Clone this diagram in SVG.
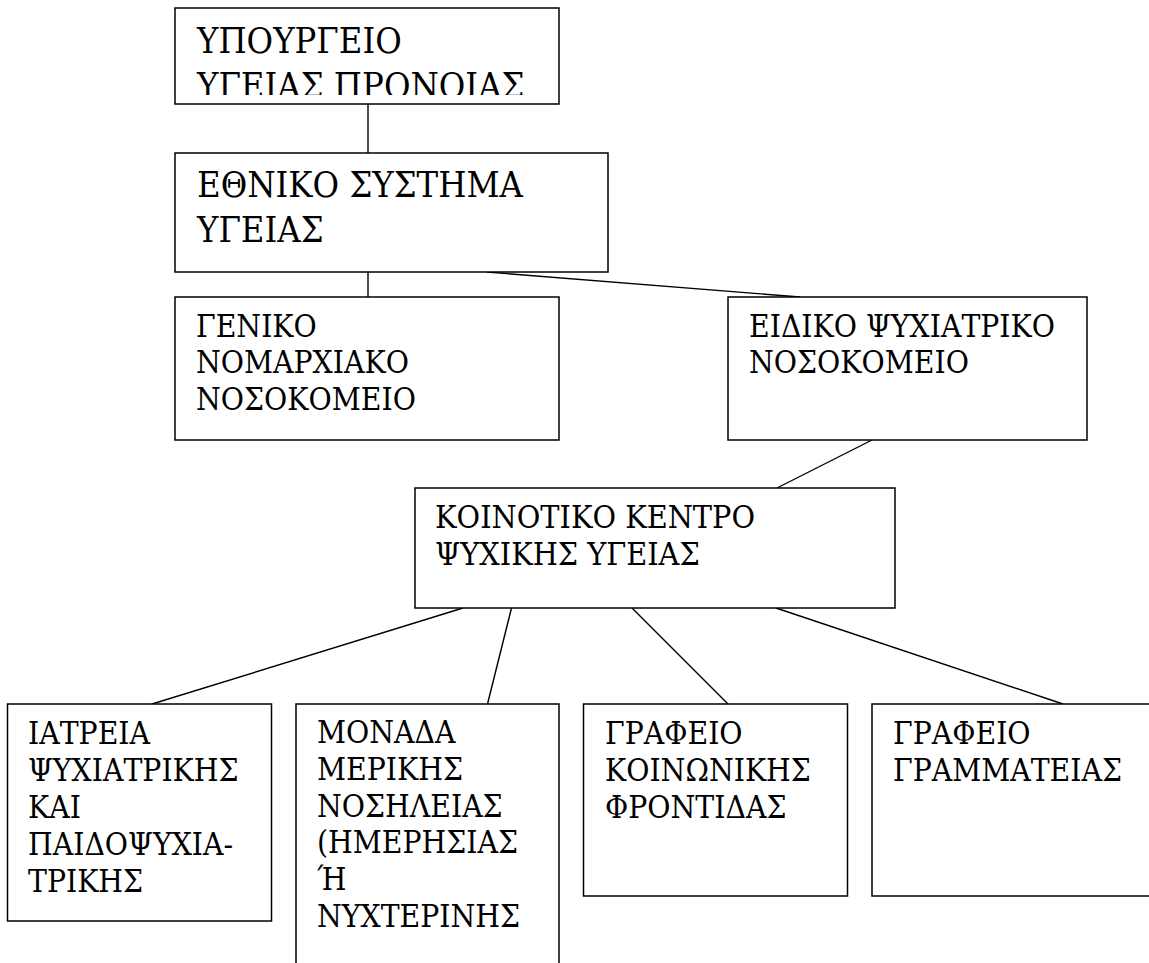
<svg xmlns="http://www.w3.org/2000/svg" width="1149" height="963" viewBox="0 0 1149 963">
<defs>
<style>
.box{fill:#fff;stroke:#000;stroke-width:1.5}
.t{font-family:"DejaVu Serif Condensed","Liberation Serif","DejaVu Serif",serif;fill:#000}
.big{font-size:36px}
.mid{font-size:32px}
.sm{font-size:31.5px}
.edge{stroke:#000;stroke-width:1.4;fill:none}
</style>
<clipPath id="c1"><rect x="176" y="9" width="382" height="86"/></clipPath>
</defs>
<rect width="1149" height="963" fill="#fff"/>
<g id="connectors">
<line class="edge" x1="368" y1="104" x2="368" y2="153"/>
<line class="edge" x1="368" y1="272" x2="368" y2="297"/>
<line class="edge" x1="487" y1="272" x2="800" y2="297"/>
<line class="edge" x1="872" y1="440" x2="777" y2="488"/>
<line class="edge" x1="463" y1="608" x2="152" y2="704"/>
<line class="edge" x1="511.5" y1="608" x2="487.5" y2="704"/>
<line class="edge" x1="632" y1="608" x2="728" y2="704"/>
<line class="edge" x1="776" y1="608" x2="1063" y2="704"/>
</g>
<g id="n1">
<rect class="box" x="175" y="8" width="384" height="96"/>
<g clip-path="url(#c1)">
<text class="t big" x="197" y="53">ΥΠΟΥΡΓΕΙΟ</text>
<text class="t big" x="197" y="98">ΥΓΕΙΑΣ ΠΡΟΝΟΙΑΣ</text>
</g>
</g>
<g id="n2">
<rect class="box" x="175" y="153" width="433" height="119"/>
<text class="t big" x="197" y="197">ΕΘΝΙΚΟ ΣΥΣΤΗΜΑ</text>
<text class="t big" x="197" y="242">ΥΓΕΙΑΣ</text>
</g>
<g id="n3">
<rect class="box" x="175" y="297" width="384" height="143"/>
<text class="t sm" x="196" y="337">ΓΕΝΙΚΟ</text>
<text class="t sm" x="196" y="373">ΝΟΜΑΡΧΙΑΚΟ</text>
<text class="t sm" x="196" y="410">ΝΟΣΟΚΟΜΕΙΟ</text>
</g>
<g id="n4">
<rect class="box" x="728" y="297" width="359" height="143"/>
<text class="t sm" x="749" y="337">ΕΙΔΙΚΟ ΨΥΧΙΑΤΡΙΚΟ</text>
<text class="t sm" x="749" y="373">ΝΟΣΟΚΟΜΕΙΟ</text>
</g>
<g id="n5">
<rect class="box" x="415" y="488" width="480" height="120"/>
<text class="t mid" x="435" y="528">ΚΟΙΝΟΤΙΚΟ ΚΕΝΤΡΟ</text>
<text class="t mid" x="435" y="565">ΨΥΧΙΚΗΣ ΥΓΕΙΑΣ</text>
</g>
<g id="n6">
<rect class="box" x="7.5" y="704" width="264" height="217"/>
<text class="t sm" x="28" y="744">ΙΑΤΡΕΙΑ</text>
<text class="t sm" x="28" y="781">ΨΥΧΙΑΤΡΙΚΗΣ</text>
<text class="t sm" x="28" y="818">ΚΑΙ</text>
<text class="t sm" x="28" y="855">ΠΑΙΔΟΨΥΧΙΑ-</text>
<text class="t sm" x="28" y="892">ΤΡΙΚΗΣ</text>
</g>
<g id="n7">
<rect class="box" x="296" y="704" width="263" height="280"/>
<text class="t sm" x="317" y="743">ΜΟΝΑΔΑ</text>
<text class="t sm" x="317" y="780">ΜΕΡΙΚΗΣ</text>
<text class="t sm" x="317" y="817">ΝΟΣΗΛΕΙΑΣ</text>
<text class="t sm" x="317" y="853">(ΗΜΕΡΗΣΙΑΣ</text>
<text class="t sm" x="317" y="890">Ή</text>
<text class="t sm" x="317" y="927">ΝΥΧΤΕΡΙΝΗΣ</text>
</g>
<g id="n8">
<rect class="box" x="583.5" y="704" width="264" height="192"/>
<text class="t sm" x="605" y="744">ΓΡΑΦΕΙΟ</text>
<text class="t sm" x="605" y="781">ΚΟΙΝΩΝΙΚΗΣ</text>
<text class="t sm" x="605" y="818">ΦΡΟΝΤΙΔΑΣ</text>
</g>
<g id="n9">
<rect class="box" x="872" y="704" width="290" height="192"/>
<text class="t sm" x="893" y="744">ΓΡΑΦΕΙΟ</text>
<text class="t sm" x="893" y="781">ΓΡΑΜΜΑΤΕΙΑΣ</text>
</g>
</svg>
